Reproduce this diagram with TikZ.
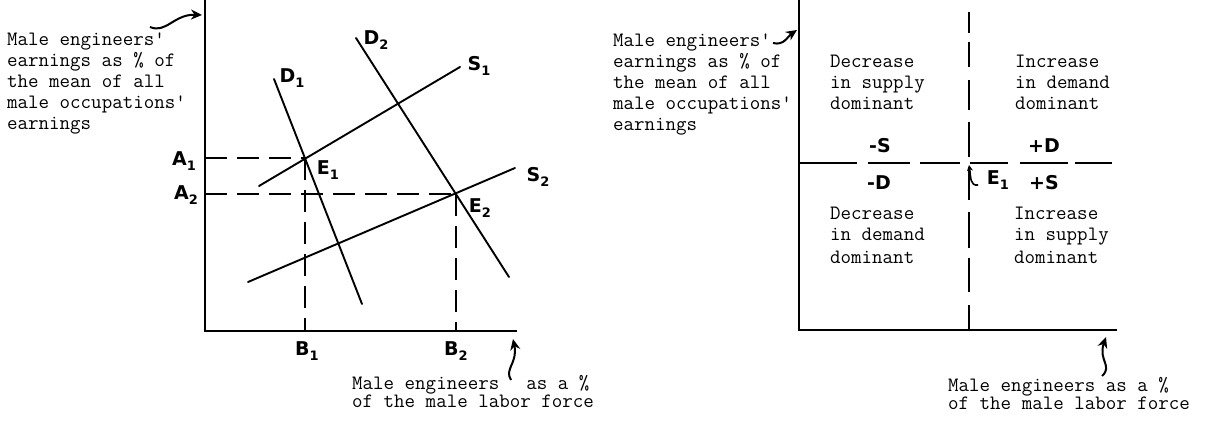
\documentclass[tikz,border=0pt]{standalone}
\usepackage{fontspec}
\newfontfamily\mono{Latin Modern Mono}
\newfontfamily\hand{DejaVu Sans}
\usetikzlibrary{arrows.meta}
\newcommand{\hlab}[2]{#1\raisebox{-0.3em}{\fontsize{13}{13}\selectfont #2}}
\newcommand{\aq}{\char"0027\relax}
\tikzset{
 axis/.style={line width=2.4pt},
 curve/.style={line width=1.9pt, line cap=round},
 dsh/.style={line width=1.9pt, dash pattern=on 22pt off 10pt},
 seg/.style={line width=1.9pt},
 txt/.style={font=\mono\fontsize{20.4}{21}\selectfont, anchor=base west, inner sep=0pt},
 hw/.style={font=\hand\bfseries\fontsize{19}{19}\selectfont, inner sep=0pt},
 pointer/.style={line width=2pt, -{Stealth[length=11pt,width=10pt]}},
}
\begin{document}
\begin{tikzpicture}[x=1pt,y=-1pt]
\useasboundingbox (0,0) rectangle (1205,422);
% ================= LEFT CHART =================
\coordinate (LO) at (205,331);
\coordinate (LT) at (205,0);
\coordinate (LR) at (517,331);
\draw[axis] (LT) -- (LO) -- (LR);
% demand and supply curves
\coordinate (D1a) at (274,79);  \coordinate (D1b) at (362,304);
\coordinate (D2a) at (356,38);  \coordinate (D2b) at (509,277);
\coordinate (S1a) at (259,186); \coordinate (S1b) at (460,67);
\coordinate (S2a) at (248,282); \coordinate (S2b) at (515,168);
\draw[curve] (D1a) -- (D1b);
\draw[curve] (D2a) -- (D2b);
\draw[curve] (S1a) -- (S1b);
\draw[curve] (S2a) -- (S2b);
% equilibria
\coordinate (E1) at (305,158);
\coordinate (E2) at (456,194);
\coordinate (A1) at (205,158);
\coordinate (A2) at (205,194);
\coordinate (B1) at (305,331);
\coordinate (B2) at (456,331);
\draw[dsh] (A1) -- (E1);
\draw[dsh] (A2) -- (E2);
\draw[dsh] (E1) -- (B1);
\draw[dsh] (E2) -- (B2);
% handwritten labels
\node[hw] (lA1) at (184,161) {\hlab{A}{1}};
\node[hw] (lA2) at (186,195) {\hlab{A}{2}};
\node[hw] (lD1) at (292,78) {\hlab{D}{1}};
\node[hw] (lD2) at (376,40) {\hlab{D}{2}};
\node[hw] (lS1) at (479,66) {\hlab{S}{1}};
\node[hw] (lS2) at (538,177) {\hlab{S}{2}};
\node[hw] (lE1) at (328,170) {\hlab{E}{1}};
\node[hw] (lE2) at (480,208) {\hlab{E}{2}};
\node[hw] (lB1) at (307,351) {\hlab{B}{1}};
\node[hw] (lB2) at (456,351) {\hlab{B}{2}};
% axis texts
\node[txt] (ly1) at (7,46)  {Male engineers\aq};
\node[txt] (ly2) at (7,67)  {earnings as \% of};
\node[txt] (ly3) at (7,88)  {the mean of all};
\node[txt] (ly4) at (7,109) {male occupations\aq};
\node[txt] (ly5) at (7,130) {earnings};
\node[txt] (lx1) at (352,389) {Male engineers\hspace{27pt}as a \%};
\node[txt] (lx2) at (352,407.5) {of the male labor force};
% pointers
\coordinate (lyT) at (150,27);
\coordinate (lyH) at (202,15);
\draw[pointer] (lyT) .. controls (166,34) and (174,14) .. (lyH);
\coordinate (lxT) at (511,380);
\coordinate (lxH) at (513,339);
\draw[pointer] (lxT) .. controls (504,369) and (518,363) .. (lxH);
% ================= RIGHT CHART =================
\coordinate (RO) at (799,330);
\coordinate (RT) at (799,0);
\coordinate (RR) at (1117,330);
\draw[axis] (RT) -- (RO) -- (RR);
% horizontal (E1 level) line
\foreach \a/\b in {799/857, 868/910, 920/960, 970/1008, 1020/1068, 1075/1112}
  \draw[seg] (\a,163) -- (\b,163);
% vertical dashed line
\foreach \a/\b in {12/33, 42/67, 80/110, 122/157, 167/200, 212/248, 258/292, 305/330}
  \draw[seg] (969,\a) -- (969,\b);
\coordinate (RE1) at (969,165);
% labels
\node[hw] (mS) at (880,146) {-S};
\node[hw] (mD) at (879,183) {-D};
\node[hw] (pD) at (1044,146) {+D};
\node[hw] (pS) at (1044,183) {+S};
\node[hw] (rE1) at (998,180) {\hlab{E}{1}};
\coordinate (rEt) at (978,185);
\draw[line width=1.6pt, -{Stealth[length=6pt,width=6pt]}] (rEt) .. controls (970,186) and (971,178) .. (RE1);
% quadrant texts
\node[txt] (q1a) at (830,68)  {Decrease};
\node[txt] (q1b) at (830,89)  {in supply};
\node[txt] (q1c) at (830,110) {dominant};
\node[txt] (q2a) at (1015,68)  {Increase};
\node[txt] (q2b) at (1015,89)  {in demand};
\node[txt] (q2c) at (1015,110) {dominant};
\node[txt] (q3a) at (830,220)  {Decrease};
\node[txt] (q3b) at (830,241)  {in demand};
\node[txt] (q3c) at (830,263)  {dominant};
\node[txt] (q4a) at (1014,220) {Increase};
\node[txt] (q4b) at (1014,241) {in supply};
\node[txt] (q4c) at (1014,263) {dominant};
% axis texts
\node[txt] (ry1) at (613,47)  {Male engineers\aq};
\node[txt] (ry2) at (613,68)  {earnings as \% of};
\node[txt] (ry3) at (613,89)  {the mean of all};
\node[txt] (ry4) at (613,110) {male occupations\aq};
\node[txt] (ry5) at (613,131) {earnings};
\node[txt] (rx1) at (948,391) {Male engineers as a \%};
\node[txt] (rx2) at (948,409.5) {of the male labor force};
% pointers
\coordinate (ryT) at (773,43);
\coordinate (ryH) at (797,30);
\draw[pointer] (ryT) .. controls (784,46) and (788,36) .. (ryH);
\coordinate (rxT) at (1102,376);
\coordinate (rxH) at (1106,337);
\draw[pointer] (rxT) .. controls (1113,366) and (1098,360) .. (rxH);
\end{tikzpicture}
\end{document}
